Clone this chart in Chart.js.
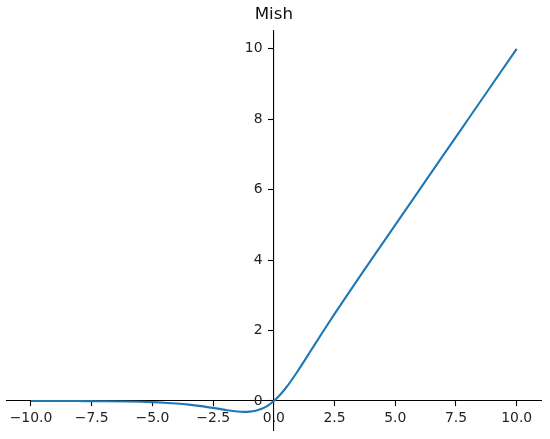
<!DOCTYPE html>
<html>
<head>
<meta charset="utf-8">
<script src="https://cdn.jsdelivr.net/npm/chart.js@4/dist/chart.umd.min.js"></script>
<style>
  html, body { margin: 0; padding: 0; background: #fff; }
  #wrap { width: 550px; height: 439px; }
</style>
</head>
<body>
<div id="wrap"><canvas id="mishChart" width="550" height="439"></canvas></div>
<script>
// values
var xValues = [-10, -9, -8, -7, -6, -5, -4.5, -4, -3.5, -3, -2.5, -2, -1.75, -1.5, -1.25, -1, -0.75, -0.5, -0.25, 0,
               0.25, 0.5, 0.75, 1, 1.25, 1.5, 2, 2.5, 3, 3.5, 4, 5, 6, 7, 8, 9, 10];
var yValues = [-0.0005, -0.0011, -0.0027, -0.0064, -0.0149, -0.0336, -0.0497, -0.0726, -0.1041, -0.1457, -0.1968, -0.2525, -0.2780, -0.2981, -0.3084, -0.3034, -0.2765, -0.2208, -0.1299, 0,
               0.1696, 0.3752, 0.6100, 0.8651, 1.1319, 1.4034, 1.9440, 2.4714, 2.9865, 3.4940, 3.9974, 4.9996, 6.0, 7.0, 8.0, 9.0, 10.0];

var xTicks      = [-10, -7.5, -5, -2.5, 0, 2.5, 5, 7.5, 10];
var xTickLabels = ['\u221210.0', '\u22127.5', '\u22125.0', '\u22122.5', '0.0', '2.5', '5.0', '7.5', '10.0'];
var yTicks      = [0, 2, 4, 6, 8, 10];
var yTickLabels = ['0', '2', '4', '6', '8', '10'];

var points = [];
for (var i = 0; i < xValues.length; i++) {
    points.push({ x: xValues[i], y: yValues[i] });
}

function labelFor(values, labels, v) {
    var idx = values.indexOf(v);
    return idx >= 0 ? labels[idx] : '';
}

var tickFont = { family: 'DejaVu Sans', size: 13.9 };

var ctx = document.getElementById('mishChart').getContext('2d');
var mishChart = new Chart(ctx, {
    type: 'line',
    data: {
        datasets: [{
            label: 'Mish',
            data: points,
            borderColor: '#1f77b4',
            borderWidth: 2.1,
            pointRadius: 0,
            fill: false,
            cubicInterpolationMode: 'monotone'
        }]
    },
    options: {
        responsive: false,
        animation: false,
        devicePixelRatio: 1,
        layout: { padding: { left: 6.7, right: 9, top: 0, bottom: 9 } },
        plugins: {
            legend: { display: false },
            tooltip: { enabled: false },
            title: {
                display: true,
                text: 'Mish',
                color: '#111',
                font: { family: 'DejaVu Sans', size: 16.7, weight: 'normal', lineHeight: 1.2 },
                padding: { top: 4.5, bottom: 6.1 }
            }
        },
        scales: {
            x: {
                type: 'linear',
                position: { y: 0 },
                min: -11,
                max: 11,
                afterBuildTicks: function(scale) {
                    scale.ticks = xTicks.map(function(v) { return { value: v }; });
                },
                grid: { drawOnChartArea: false, drawTicks: true, tickLength: 5, tickColor: '#000', tickWidth: 1.1 },
                border: { display: true, color: '#000', width: 1.1 },
                ticks: {
                    padding: 4.5,
                    color: '#222',
                    font: tickFont,
                    maxRotation: 0,
                    autoSkip: false,
                    callback: function(v) { return labelFor(xTicks, xTickLabels, v); }
                }
            },
            y: {
                type: 'linear',
                position: { x: 0 },
                min: -0.8243,
                max: 10.5154,
                afterBuildTicks: function(scale) {
                    scale.ticks = yTicks.map(function(v) { return { value: v }; });
                },
                grid: { drawOnChartArea: false, drawTicks: true, tickLength: 5, tickColor: '#000', tickWidth: 1.1 },
                border: { display: true, color: '#000', width: 1.1 },
                ticks: {
                    padding: 0,
                    color: '#222',
                    font: tickFont,
                    autoSkip: false,
                    // trailing spaces keep the labels clear of the tick marks
                    callback: function(v) { return labelFor(yTicks, yTickLabels, v) + '\u2002 '; }
                }
            }
        }
    }
});
</script>
</body>
</html>
